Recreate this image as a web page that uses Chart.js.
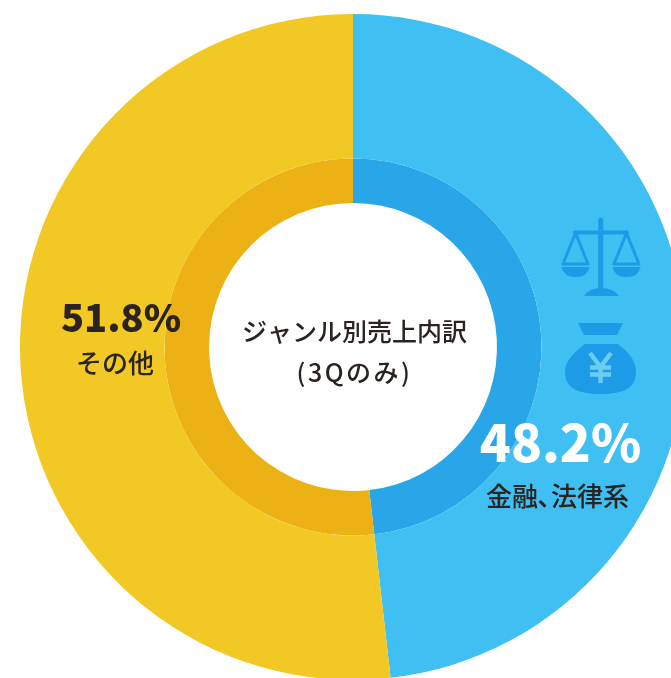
<!DOCTYPE html>
<html lang="ja"><head><meta charset="utf-8">
<style>html,body{margin:0;padding:0;background:#fff;overflow:hidden}#w{width:671px;height:678px;position:relative;overflow:hidden}canvas{display:block}</style>
<script src="https://cdn.jsdelivr.net/npm/chart.js@4"></script></head>
<body><div id="w"><canvas id="c" width="686" height="680"></canvas></div>
<script>
const categories = ['金融､法律系', 'その他'];
const shareValues = [48.2, 51.8];
const ringColors = ['#3FBFF2', '#F2C824'];
const innerRingColors = ['#29A6E8', '#EBB115'];
const centerLines = ['ジャンル別売上内訳', '(3Qのみ)'];
const valueLabels = ['48.2%', '51.8%'];
const FONT = '"Noto Sans CJK JP","Noto Sans",sans-serif';
const INK = '#2B2320';
const ICON = '#1E9BE6';

function text(ctx, s, x, y, font, color, spacing) {
  ctx.font = font; ctx.fillStyle = color; ctx.textAlign = 'center'; ctx.textBaseline = 'middle';
  ctx.letterSpacing = spacing || '0px';
  ctx.fillText(s, x, y);
  ctx.letterSpacing = '0px';
}
function scalesIcon(ctx) {
  ctx.save();
  ctx.fillStyle = ctx.strokeStyle = ICON; ctx.lineCap = 'round'; ctx.lineJoin = 'round';
  ctx.lineWidth = 5; ctx.beginPath(); ctx.moveTo(600.7, 220); ctx.lineTo(600.7, 290); ctx.stroke();
  ctx.lineWidth = 4; ctx.beginPath(); ctx.moveTo(575, 232.5); ctx.lineTo(627, 232.5); ctx.stroke();
  ctx.beginPath(); ctx.moveTo(584, 296); ctx.quadraticCurveTo(589, 288, 601, 288); ctx.quadraticCurveTo(613, 288, 619, 296); ctx.closePath(); ctx.fill();
  ctx.lineWidth = 3;
  for (const cx of [575.5, 626.5]) {
    ctx.beginPath(); ctx.moveTo(cx, 233); ctx.lineTo(cx - 12.5, 264); ctx.lineTo(cx + 12.5, 264); ctx.closePath(); ctx.stroke();
    ctx.beginPath(); ctx.moveTo(cx - 14, 267); ctx.lineTo(cx + 14, 267); ctx.quadraticCurveTo(cx + 12, 277, cx, 277); ctx.quadraticCurveTo(cx - 12, 277, cx - 14, 267); ctx.closePath(); ctx.fill();
  }
  ctx.restore();
}
function bagIcon(ctx) {
  ctx.save();
  ctx.fillStyle = ICON;
  ctx.beginPath(); ctx.moveTo(578, 323); ctx.lineTo(623, 323); ctx.lineTo(617, 335); ctx.lineTo(584, 335); ctx.closePath(); ctx.fill();
  ctx.beginPath(); ctx.moveTo(585, 344); ctx.lineTo(618, 344);
  ctx.bezierCurveTo(628, 352, 636, 360, 636, 372);
  ctx.bezierCurveTo(636, 388, 624, 394, 601, 394);
  ctx.bezierCurveTo(577, 394, 565, 388, 565, 372);
  ctx.bezierCurveTo(565, 360, 575, 352, 585, 344);
  ctx.closePath(); ctx.fill();
  ctx.strokeStyle = '#6CCDF4'; ctx.lineWidth = 4.5; ctx.lineCap = 'butt';
  ctx.beginPath(); ctx.moveTo(590, 353); ctx.lineTo(600.5, 367); ctx.lineTo(611, 353);
  ctx.moveTo(600.5, 367); ctx.lineTo(600.5, 383);
  ctx.moveTo(590, 367.5); ctx.lineTo(611, 367.5);
  ctx.moveTo(590, 374.5); ctx.lineTo(611, 374.5);
  ctx.stroke();
  ctx.restore();
}
const overlay = {
  id: 'overlay',
  afterDatasetsDraw(chart) {
    const ctx = chart.ctx;
    text(ctx, centerLines[0], 354.5, 331, '500 25px ' + FONT, INK);
    text(ctx, centerLines[1], 354.5, 372, '500 25px ' + FONT, INK, '2.5px');
    text(ctx, valueLabels[1], 121, 318, '900 38px ' + FONT, INK);
    text(ctx, categories[1], 115, 363, '500 26px ' + FONT, INK);
    text(ctx, valueLabels[0], 560.5, 443, '900 51px ' + FONT, '#FFFFFF');
    text(ctx, categories[0], 557.5, 496, '500 26px ' + FONT, INK);
    scalesIcon(ctx);
    bagIcon(ctx);
  }
};
new Chart(document.getElementById('c'), {
  type: 'doughnut',
  data: {
    labels: categories,
    datasets: [
      { data: shareValues, backgroundColor: ringColors, borderWidth: 0, weight: 144.5 },
      { data: shareValues, backgroundColor: innerRingColors, borderWidth: 0, weight: 44.5 }
    ]
  },
  options: {
    responsive: false, animation: false, events: [],
    cutout: 144,
    layout: { padding: { left: 20, top: 14, right: 0, bottom: 0 } },
    plugins: { legend: { display: false }, tooltip: { enabled: false }, title: { display: false } }
  },
  plugins: [overlay]
});
</script></body></html>
